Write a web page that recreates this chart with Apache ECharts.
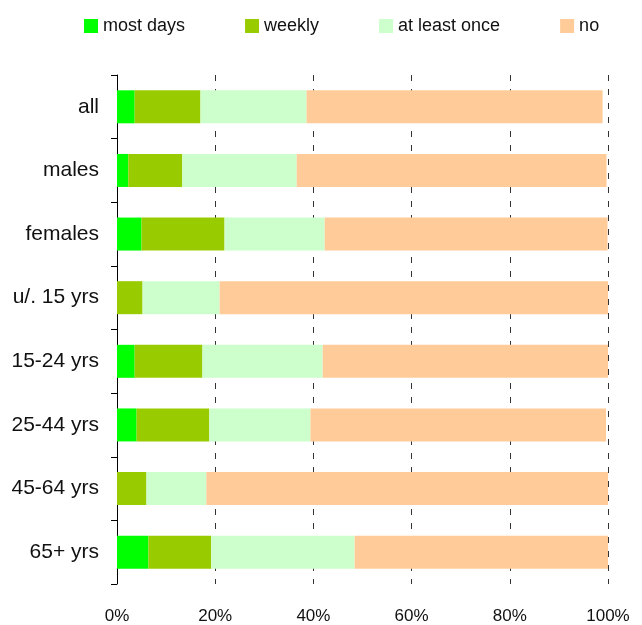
<!DOCTYPE html>
<html>
<head>
<meta charset="utf-8">
<script src="https://cdn.jsdelivr.net/npm/echarts@6/dist/echarts.min.js"></script>
<style>
  html, body { margin: 0; padding: 0; background: #fff; }
  #chart { width: 642px; height: 625px; }
</style>
</head>
<body>
<div id="chart"></div>
<script>
// categories, top to bottom
const groups = ['all', 'males', 'females', 'u/. 15 yrs', '15-24 yrs', '25-44 yrs', '45-64 yrs', '65+ yrs'];
// shares in %
const mostDays    = [3.6, 2.3, 5.0, 0,    3.6,  4.0,  0,    6.4];
const weekly      = [13.4, 11.0, 16.9, 5.2, 13.8, 14.8, 6.0, 12.8];
const atLeastOnce = [21.6, 23.3, 20.4, 15.7, 24.5, 20.6, 12.2, 29.2];
const no          = [60.3, 63.1, 57.6, 79.1, 58.1, 60.2, 81.8, 51.6];
const xTicks = [0, 20, 40, 60, 80, 100];

const font = "'Liberation Sans', Arial, sans-serif";

let myChart = echarts.init(document.getElementById('chart'));

function bar(name, color, data) {
  return {
    name: name,
    type: 'bar',
    stack: 'total',
    barWidth: 33,
    itemStyle: { color: color },
    data: data
  };
}

let option = {
  animation: false,
  textStyle: { fontFamily: font },
  legend: {
    left: 79,
    top: 12,
    itemWidth: 14,
    itemHeight: 14,
    itemGap: 60,
    icon: 'rect',
    textStyle: { fontSize: 18, color: '#111', fontFamily: font },
    data: ['most days', 'weekly', 'at least once', 'no']
  },
  grid: {
    left: 117,
    top: 75,
    right: 34,
    bottom: 41,
    containLabel: false
  },
  xAxis: {
    type: 'value',
    min: xTicks[0],
    max: xTicks[xTicks.length - 1],
    interval: 20,
    axisLine: { show: false },
    axisTick: { show: false },
    axisLabel: {
      margin: 24,
      fontSize: 17,
      color: '#111',
      fontFamily: font,
      formatter: '{value}%'
    },
    splitLine: {
      show: true,
      lineStyle: { color: '#333', width: 1, type: [6, 8] }
    }
  },
  yAxis: {
    type: 'category',
    inverse: true,
    data: groups,
    axisLine: { show: true, lineStyle: { color: '#000', width: 1 } },
    axisTick: { show: true, length: 6, lineStyle: { color: '#000' } },
    axisLabel: {
      margin: 18,
      fontSize: 21,
      color: '#111',
      fontFamily: font
    },
    splitLine: { show: false }
  },
  series: [
    bar('most days', '#00ff00', mostDays),
    bar('weekly', '#99cc00', weekly),
    bar('at least once', '#ccffcc', atLeastOnce),
    bar('no', '#ffcc99', no)
  ]
};

myChart.setOption(option, true);
</script>
</body>
</html>
